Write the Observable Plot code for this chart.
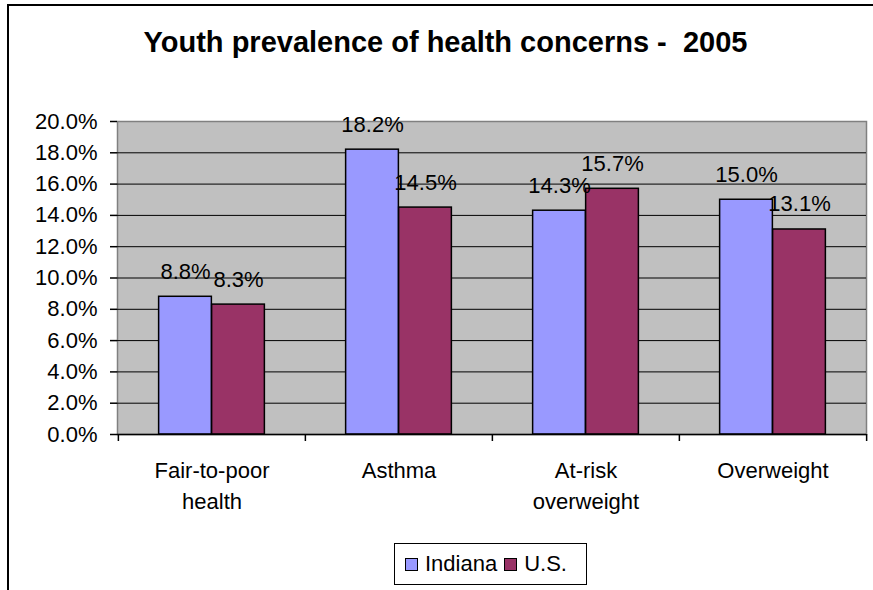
<!DOCTYPE html>
<html>
<head>
<meta charset="utf-8">
<script src="https://cdn.jsdelivr.net/npm/d3@7"></script>
<script src="https://cdn.jsdelivr.net/npm/@observablehq/plot@0.6"></script>
<style>
  html, body { margin: 0; padding: 0; background: #fff; overflow: hidden; }
  #page { position: relative; width: 873px; height: 590px; overflow: hidden; font-family: "Liberation Sans", Arial, sans-serif; }
  #border { position: absolute; left: 7px; top: 4px; width: 1000px; height: 1000px; border: 2px solid #000; box-sizing: border-box; }
  #chart { position: absolute; left: 0; top: 0; }
  #title { position: absolute; left: 0; width: 891px; top: 28px; text-align: center; font-size: 29px; font-weight: bold; line-height: 29px; color: #000; white-space: pre; }
  #legend { position: absolute; left: 394px; top: 543px; width: 193px; height: 42px; border: 1px solid #000; box-sizing: border-box; background: #fff; display: flex; align-items: center; font-size: 22px; color: #000; }
  .sw { display: inline-block; width: 13px; height: 13px; border: 1px solid #000; box-sizing: border-box; margin-right: 7px; }
  .item { display: flex; align-items: center; }
</style>
</head>
<body>
<div id="page">
  <div id="border"></div>
  <div id="chart"></div>
  <div id="title"></div>
  <div id="legend"></div>
</div>
<script>
const titleText = "Youth prevalence of health concerns -  2005";
const categories = ["Fair-to-poor\nhealth", "Asthma", "At-risk\noverweight", "Overweight"];
const seriesNames = ["Indiana", "U.S."];
const indiana = [0.088, 0.182, 0.143, 0.150];
const us = [0.083, 0.145, 0.157, 0.131];
const yTicks = [0, 0.02, 0.04, 0.06, 0.08, 0.10, 0.12, 0.14, 0.16, 0.18, 0.20];
const colors = ["#9999FF", "#993366"];

const W = 873, H = 590;
const mL = 117, mR = 7, mT = 121, mB = 156;
const bw = (W - mL - mR) / categories.length;
const barW = 53;
const outer = (bw - 2 * barW) / 2;

const rows = [];
categories.forEach((c, i) => {
  rows.push({cat: c, series: "Indiana", value: indiana[i]});
  rows.push({cat: c, series: "U.S.", value: us[i]});
});
const indRows = rows.filter(d => d.series === "Indiana");
const usRows = rows.filter(d => d.series === "U.S.");

const chart = Plot.plot({
  width: W, height: H,
  marginLeft: mL, marginRight: mR, marginTop: mT, marginBottom: mB,
  style: {fontFamily: "'Liberation Sans', Arial, sans-serif", fontSize: "22px", color: "#000", background: "transparent"},
  x: {domain: categories, padding: 0, axis: null},
  y: {domain: [0, 0.2], axis: null},
  marks: [
    Plot.frame({fill: "#C0C0C0", stroke: "#808080", strokeWidth: 1.5}),
    Plot.gridY(yTicks.filter(t => t > 0 && t < 0.2), {stroke: "#000", strokeOpacity: 1, strokeWidth: 1}),
    Plot.barY(indRows, {x: "cat", y: "value", fill: colors[0], stroke: "#000", strokeWidth: 1.5, insetLeft: outer, insetRight: outer + barW}),
    Plot.barY(usRows, {x: "cat", y: "value", fill: colors[1], stroke: "#000", strokeWidth: 1.5, insetLeft: outer + barW, insetRight: outer}),
    // y axis line and ticks
    Plot.ruleX([0], {frameAnchor: "left", stroke: "#000", strokeWidth: 1.5, insetBottom: -7}),
    Plot.ruleY([0], {stroke: "#000", strokeWidth: 1.5}),
    Plot.axisY({ticks: yTicks, tickSize: 7, tickPadding: 13, tickFormat: d3.format(".1%"), label: null, fontSize: 22, stroke: "#000", strokeWidth: 1.5}),
    // category boundary ticks
    Plot.ruleX(categories, {x: d => d, dx: -bw / 2, insetTop: H - mT - mB, insetBottom: -7, stroke: "#000", strokeWidth: 1.5}),
    Plot.ruleX([categories[categories.length - 1]], {x: d => d, dx: bw / 2, insetTop: H - mT - mB, insetBottom: -7, stroke: "#000", strokeWidth: 1.5}),
    // category labels
    Plot.text(categories, {x: d => d, frameAnchor: "bottom", lineAnchor: "top", dy: 21, fontSize: 22, lineHeight: 1.41, fill: "#000"}),
    // data labels
    Plot.text(indRows, {x: "cat", y: "value", text: d => d3.format(".1%")(d.value), dx: -bw / 2 + outer + barW / 2, dy: -18, lineAnchor: "bottom", fontSize: 22, fill: "#000"}),
    Plot.text(usRows, {x: "cat", y: "value", text: d => d3.format(".1%")(d.value), dx: -bw / 2 + outer + barW * 1.5, dy: -18, lineAnchor: "bottom", fontSize: 22, fill: "#000"})
  ]
});
document.getElementById("chart").appendChild(chart);

document.getElementById("title").textContent = titleText;

const legend = document.getElementById("legend");
legend.style.paddingLeft = "10px";
seriesNames.forEach((name, i) => {
  const item = document.createElement("span");
  item.className = "item";
  item.style.marginRight = i === 0 ? "7px" : "0";
  const sw = document.createElement("span");
  sw.className = "sw";
  sw.style.background = colors[i];
  const t = document.createElement("span");
  t.textContent = name;
  item.appendChild(sw);
  item.appendChild(t);
  legend.appendChild(item);
});
</script>
</body>
</html>
